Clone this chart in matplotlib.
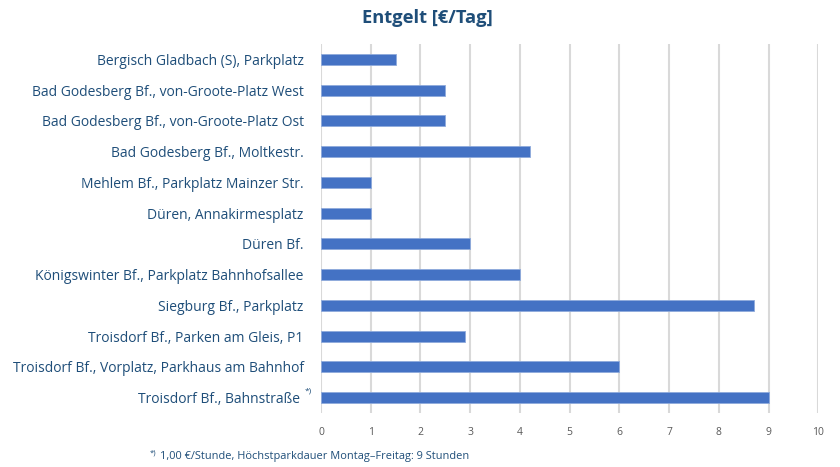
import matplotlib
matplotlib.use("Agg")
import matplotlib.pyplot as plt
import matplotlib.transforms as mtransforms
import numpy as np

categories = [
    "Bergisch Gladbach (S), Parkplatz",
    "Bad Godesberg Bf., von-Groote-Platz West",
    "Bad Godesberg Bf., von-Groote-Platz Ost",
    "Bad Godesberg Bf., Moltkestr.",
    "Mehlem Bf., Parkplatz Mainzer Str.",
    "Düren, Annakirmesplatz",
    "Düren Bf.",
    "Königswinter Bf., Parkplatz Bahnhofsallee",
    "Siegburg Bf., Parkplatz",
    "Troisdorf Bf., Parken am Gleis, P1",
    "Troisdorf Bf., Vorplatz, Parkhaus am Bahnhof",
    "Troisdorf Bf., Bahnstraße",
]
values = [1.5, 2.5, 2.5, 4.2, 1.0, 1.0, 3.0, 4.0, 8.7, 2.9, 6.0, 9.0]
x_ticks = [0, 1, 2, 3, 4, 5, 6, 7, 8, 9, 10]
title = "Entgelt [€/Tag]"
footnote = "1,00 €/Stunde, Höchstparkdauer Montag–Freitag: 9 Stunden"

plt.rcParams['font.family'] = ['Open Sans', 'DejaVu Sans']

fig = plt.figure(figsize=(8.4, 4.67), dpi=100)
ax = fig.add_axes([321/840, 1-413/467, (818.3-321)/840, (413-44)/467])

label_color = "#1F4E79"
y = np.arange(len(categories))
ax.barh(y, values, height=0.36, color="#4472C4", edgecolor="#8FAADC", linewidth=0.6, zorder=3)
ax.set_ylim(len(categories)-0.5, -0.5)
ax.set_xlim(0, 10)
ax.set_xticks(x_ticks)
ax.set_xticklabels([str(t) for t in x_ticks], color="#595959", fontsize=7.5)
ax.set_yticks(y)
ax.set_yticklabels(categories, color=label_color, fontsize=10)
ax.tick_params(axis='y', length=0, pad=12.5)
ax.tick_params(axis='x', length=0, pad=10)
ax.grid(axis='x', color="#D9D9D9", linewidth=1.5, zorder=0)
for s in ax.spines.values():
    s.set_visible(False)

# shift last label left to make room for the footnote marker
last = ax.get_yticklabels()[-1]
last.set_transform(last.get_transform() + mtransforms.ScaledTranslation(-4/100, 0, fig.dpi_scale_trans))

ax.annotate("*)", xy=(0, len(categories)-1), xycoords=('axes fraction', 'data'),
            xytext=(-11.5, 2), textcoords='offset points', fontsize=6, color=label_color,
            ha='left', va='bottom')

fig.text(427/840, 1-18/467, title, ha='center', va='center', fontsize=13.2,
         fontweight='bold', color=label_color)

fig.text(150/840, 1-453/467, "*)", ha='left', va='center', fontsize=5.5, color=label_color)
fig.text(160/840, 1-456/467, footnote, ha='left', va='center', fontsize=7.9, color=label_color)

fig.savefig("out.png", dpi=100)
